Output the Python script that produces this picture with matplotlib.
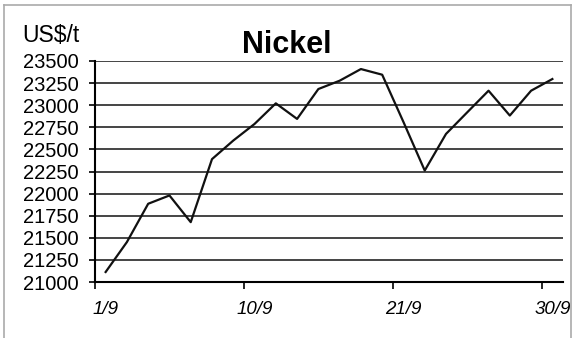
import numpy as np
import matplotlib
matplotlib.use("Agg")
import matplotlib.pyplot as plt
from matplotlib.lines import Line2D

plt.rcParams['font.family'] = ['Liberation Sans', 'DejaVu Sans']

# trading days in September, one value per day
prices = [21113, 21452, 21885, 21979, 21677, 22390, 22600, 22788, 23021, 22845,
          23183, 23277, 23409, 23345, 22810, 22261, 22675, 22920, 23164, 22883,
          23164, 23296]
date_labels = ['1/9', '10/9', '21/9', '30/9']
label_idx = [0, 7, 14, 21]
yticks = [21000, 21250, 21500, 21750, 22000, 22250, 22500, 22750, 23000, 23250, 23500]

fig = plt.figure(figsize=(5.74, 3.38), dpi=100)
ax = fig.add_axes([95/574, 1-282/338, (563-95)/574, (282-61)/338])

x = np.arange(len(prices))
ax.plot(x, prices, color='#111111', lw=1.6, zorder=3)

ax.set_xlim(-0.5, len(prices) - 0.5)
ax.set_ylim(21000, 23500)
ax.set_yticks(yticks)
ax.set_yticklabels([str(v) for v in yticks], fontsize=14.5)
ax.yaxis.grid(True, color='#444444', lw=1.4)
ax.set_axisbelow(True)

# tick marks on category boundaries, labels centred on the categories
ax.set_xticks([-0.5, 6.5, 13.5, 20.5])
ax.set_xticklabels([])
ax.set_xticks(label_idx, minor=True)
ax.set_xticklabels(date_labels, minor=True, fontsize=13.5, style='italic')
ax.tick_params(axis='x', which='major', length=5, width=1.2, direction='out')
ax.tick_params(axis='x', which='minor', length=0, pad=14)
ax.tick_params(axis='y', length=4, width=1.2, pad=8)

for s in ['top', 'right']:
    ax.spines[s].set_visible(False)
ax.spines['left'].set_linewidth(1.5)
ax.spines['bottom'].set_linewidth(1.5)

fig.text(287/574, 1-45/338, 'Nickel', ha='center', va='center', fontsize=22, fontweight='bold')
fig.text(22/574, 1-36/338, 'US$/t', ha='left', va='center', fontsize=16.5)

# outer chart frame
fc = '#aaaaaa'
fig.add_artist(Line2D([4/574, 4/574], [0, 1-5/338], color=fc, lw=1.2, transform=fig.transFigure))
fig.add_artist(Line2D([4/574, 571/574], [1-5/338, 1-5/338], color=fc, lw=1.2, transform=fig.transFigure))
fig.add_artist(Line2D([571/574, 571/574], [0, 1-5/338], color=fc, lw=1.2, transform=fig.transFigure))

fig.savefig('out.png', dpi=100)
